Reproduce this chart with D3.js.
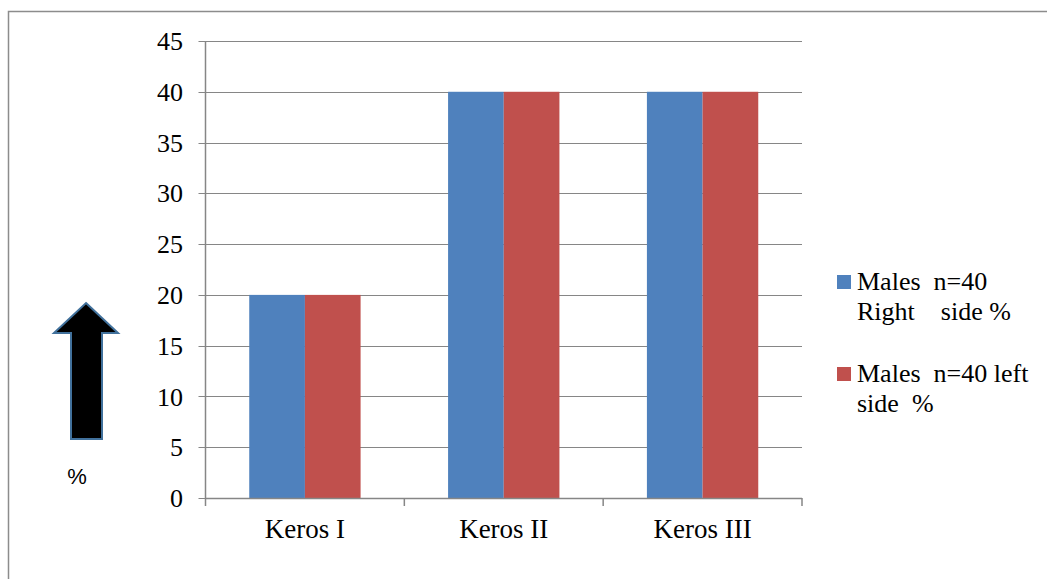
<!DOCTYPE html>
<html>
<head>
<meta charset="utf-8">
<script src="https://cdn.jsdelivr.net/npm/d3@7"></script>
<style>
  html, body { margin: 0; padding: 0; background: #fff; }
  svg { display: block; }
  .serif { font-family: "Liberation Serif", "Times New Roman", Tinos, "DejaVu Serif", serif; }
  .sans { font-family: "Liberation Sans", Arial, sans-serif; }
</style>
</head>
<body>
<svg id="chart" width="1047" height="579"></svg>
<script>
// Keros classification, males (n=40): share of cases per side
const categories = ["Keros I", "Keros II", "Keros III"];
const seriesNames = ["Males  n=40 Right    side %", "Males  n=40 left side  %"];
const rightSide = [20, 40, 40];
const leftSide = [20, 40, 40];
const yTicks = [0, 5, 10, 15, 20, 25, 30, 35, 40, 45];
const colors = ["#4f81bd", "#c0504d"];

const svg = d3.select("#chart");
const gridColor = "#868686";

// outer chart frame (runs past the right and bottom edges)
svg.append("rect")
  .attr("x", 8.5).attr("y", 11.5)
  .attr("width", 1100).attr("height", 700)
  .attr("fill", "none").attr("stroke", "#8c8c8c").attr("stroke-width", 1.5);

const plot = { left: 205.5, right: 802, top: 41, bottom: 498 };

const y = d3.scaleLinear().domain([0, 45]).range([plot.bottom, plot.top]);
const x0 = d3.scaleBand().domain(categories).range([plot.left, plot.right]).padding(0);
const x1 = d3.scaleBand().domain([0, 1])
  .range([x0.bandwidth() * 0.22, x0.bandwidth() * 0.78]).padding(0);

// horizontal gridlines with ticks extending left of the axis
svg.append("g").selectAll("line").data(yTicks).enter().append("line")
  .attr("x1", plot.left - 7).attr("x2", plot.right)
  .attr("y1", d => Math.round(y(d)) + 0.5).attr("y2", d => Math.round(y(d)) + 0.5)
  .attr("stroke", gridColor).attr("stroke-width", 1.2);

// bars
const rows = categories.map((c, i) => ({ cat: c, vals: [rightSide[i], leftSide[i]] }));
const groups = svg.append("g").selectAll("g").data(rows).enter().append("g")
  .attr("transform", d => `translate(${x0(d.cat)},0)`);
groups.selectAll("rect").data(d => d.vals.map((v, k) => ({ v, k }))).enter().append("rect")
  .attr("x", d => x1(d.k))
  .attr("width", x1.bandwidth())
  .attr("y", d => y(d.v))
  .attr("height", d => y(0) - y(d.v))
  .attr("fill", d => colors[d.k]);

// y axis line
svg.append("line")
  .attr("x1", plot.left).attr("x2", plot.left)
  .attr("y1", plot.top).attr("y2", plot.bottom)
  .attr("stroke", gridColor).attr("stroke-width", 1.5);

// y tick labels
svg.append("g").selectAll("text").data(yTicks).enter().append("text")
  .attr("class", "serif")
  .attr("x", 183).attr("y", d => y(d))
  .attr("dy", "0.35em")
  .attr("text-anchor", "end")
  .attr("font-size", 26)
  .attr("fill", "#000")
  .text(d => d);

// x axis line and category boundary ticks
svg.append("line")
  .attr("x1", plot.left).attr("x2", plot.right)
  .attr("y1", plot.bottom + 0.5).attr("y2", plot.bottom + 0.5)
  .attr("stroke", gridColor).attr("stroke-width", 1.5);
const bounds = categories.map(c => x0(c)).concat([plot.right]);
svg.append("g").selectAll("line").data(bounds).enter().append("line")
  .attr("x1", d => d).attr("x2", d => d)
  .attr("y1", plot.bottom).attr("y2", plot.bottom + 8)
  .attr("stroke", gridColor).attr("stroke-width", 1.5);

// category labels
svg.append("g").selectAll("text").data(categories).enter().append("text")
  .attr("class", "serif")
  .attr("x", d => x0(d) + x0.bandwidth() / 2)
  .attr("y", 538)
  .attr("text-anchor", "middle")
  .attr("font-size", 27)
  .attr("fill", "#000")
  .text(d => d);

// upward arrow marking the percentage axis
svg.append("path")
  .attr("d", "M86,303 L118,333 L102,333 L102,439 L71,439 L71,333 L54,333 Z")
  .attr("fill", "#000").attr("stroke", "#41719c").attr("stroke-width", 2);
svg.append("text")
  .attr("class", "sans")
  .attr("x", 77).attr("y", 484)
  .attr("text-anchor", "middle")
  .attr("font-size", 22)
  .text("%");

// legend
const legendItems = [
  { lines: ["Males  n=40", "Right    side %"], y: 275 },
  { lines: ["Males  n=40 left", "side  %"], y: 367 }
];
const leg = svg.append("g").selectAll("g").data(legendItems).enter().append("g");
leg.append("rect")
  .attr("x", 837).attr("y", d => d.y)
  .attr("width", 14).attr("height", 14)
  .attr("fill", (d, i) => colors[i]);
leg.each(function(d) {
  const t = d3.select(this).append("text")
    .attr("class", "serif")
    .attr("font-size", 26)
    .attr("fill", "#000")
    .style("white-space", "pre");
  d.lines.forEach((line, j) => {
    t.append("tspan").attr("x", 857).attr("y", d.y + 15 + j * 30).text(line);
  });
});
</script>
</body>
</html>
